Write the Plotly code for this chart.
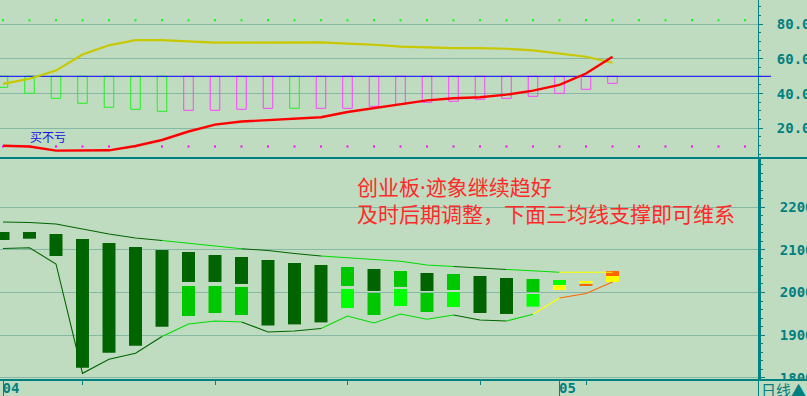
import plotly.graph_objects as go

# ---------------- data ----------------
idx = list(range(24))                    # trading-day index
dot_idx = list(range(30))                # reference-dot positions (extend past last bar)

# top panel: oscillator bars hang from the 50 level
mid_level = 50
osc_low = [43.65, 40.19, 37.31, 34.42, 32.12, 30.96, 29.81, 30.38, 30.38, 30.96,
           31.54, 31.54, 31.54, 31.54, 32.69, 33.85, 35.0, 35.58, 36.73, 37.31,
           38.46, 40.19, 42.5, 45.96]
osc_kind = ["g"] * 7 + ["m"] * 4 + ["g"] + ["m"] * 12
olive_line = [45.6, 48.6, 53.3, 62.6, 67.9, 70.9, 70.9, 70.1, 69.4, 69.4, 69.4, 69.8,
              69.6, 68.8, 68.2, 67.1, 66.5, 66.3, 66.2, 65.9, 65.0, 63.0, 61.3, 57.8]
red_line = [9.96, 9.5, 7.1, 7.1, 7.3, 9.8, 13.25, 18.15, 22.1, 23.9, 24.8, 25.65,
            26.35, 29.4, 31.7, 34.0, 36.1, 37.3, 37.9, 39.4, 41.7, 45.0, 51.6, 61.3]
upper_ref = 82.3
lower_ref = 9.5
top_ticks = [20, 40, 60, 80]
top_labels = ["20.00", "40.00", "60.00", "80.00"]

# bottom panel: two-part blocks (upper part / lower part)
upA_hi = [2142.0, 2142.0, 2137.3, 2125.6, 2116.2, 2106.8, 2099.8, 2095.1, 2088.0, 2083.3,
          2076.3, 2069.2, 2064.6, 2059.9, 2055.2, 2050.5, 2045.8, 2043.4, 2038.7, 2034.0,
          2031.7, 2029.3, 2027.0, 2050.5]
upA_lo = [2123.2, 2126.3, 2085.7, 1823.5, 1858.7, 1875.1, 1919.7, 2024.6, 2024.6, 2020.0,
          1922.7, 1925.1, 1929.8, 2015.3, 2003.5, 2013.0, 2003.5, 2005.9, 1951.9, 1949.6,
          2001.2, 2017.6, 2021.6, 2038.7]
upB_hi = [None] * 7 + [2015.3, 2015.3, 2013.0, None, None, None, 2008.3, 1998.8, 2008.3,
                       1998.8, 2001.2, None, None, 1996.5, 2017.6, 2020.0, 2038.7]
upB_lo = [None] * 7 + [1944.8, 1951.9, 1947.2, None, None, None, 1963.7, 1947.2, 1968.3,
                       1954.2, 1966.0, None, None, 1966.7, 2005.9, 2015.3, 2024.6]
kindA = ["D"] * 13 + ["M", "D", "M", "D", "M", "D", "D", "M", "B", "Y", "O"]
kindB = ["D"] * 7 + ["M", "M", "M", "D", "D", "D", "B", "M", "B", "M", "B", "D", "D",
                     "B", "Y", "O", "Y"]
env_upper = [2165.5, 2164.3, 2160.8, 2149.1, 2137.3, 2127.9, 2122.1, 2115.0, 2109.2, 2102.8,
             2098.6, 2091.5, 2085.7, 2081.7, 2077.0, 2073.2, 2064.6, 2061.0, 2057.5, 2054.0,
             2050.5, 2047.4, 2047.4, 2047.4]
env_lower = [2103.3, 2105.2, 2066.9, 1810.3, 1843.2, 1857.3, 1896.7, 1926.1, 1933.1, 1930.8,
             1907.3, 1909.6, 1915.5, 1944.8, 1928.4, 1949.5, 1937.1, 1947.2, 1935.4, 1933.1,
             1948.8, 1987.1, 1997.7, 2024.6]
seg_kind_upper = ["D"] * 6 + ["L"] * 3 + ["D"] * 3 + ["L"] * 5 + ["D"] * 2 + ["L"] * 2 + ["Y"] * 2
seg_kind_lower = ["D"] * 6 + ["L"] * 3 + ["D"] * 3 + ["L"] * 5 + ["D"] * 2 + ["L"] + ["Y"] + ["O"] * 2
bot_ticks = [1800, 1900, 2000, 2100, 2200]
bot_labels = ["1800", "1900", "2000", "2100", "2200"]

month_idx = [0, 21]
month_labels = ["04", "05"]
week_idx = [3, 8, 13, 18, 22]

note_lines = ["创业板·迹象继续趋好", "及时后期调整，下面三均线支撑即可维系"]
tag_text = "买不亏"
period_text = "日线▲"

# ---------------- style ----------------
W, H = 807, 396
PLOT_R = 758
TOP_BOTTOM = 158
BOT_BOTTOM = 380
BG = "#C0DCC0"
GRID = "#86B8A6"
TEAL = "#008080"
PAL = {"D": "#006400", "M": "#00C800", "B": "#00FF00", "Y": "#FFFF00", "O": "#FF6600",
       "L": "#00DD00", "g": "#20F020", "m": "#FF40FF"}
STEP = 26.5
X0 = 3.0
xr = [-X0 / STEP, (PLOT_R - X0) / STEP]
tickfont = dict(family="DejaVu Sans Mono", size=14, color=TEAL, weight="bold")

fig = go.Figure()

# ---- top panel ----
fig.add_trace(go.Bar(x=idx, base=osc_low, y=[mid_level - v for v in osc_low], width=0.36,
                     marker=dict(color="rgba(0,0,0,0)",
                                 line=dict(color=[PAL[k] for k in osc_kind], width=1)),
                     xaxis="x2", yaxis="y2", hoverinfo="skip", showlegend=False))
fig.add_trace(go.Scatter(x=[xr[0], xr[1] + 1], y=[mid_level, mid_level], mode="lines",
                         line=dict(color="#0000FF", width=1), xaxis="x2", yaxis="y2",
                         hoverinfo="skip", showlegend=False))
fig.add_trace(go.Scatter(x=dot_idx, y=[upper_ref] * len(dot_idx), mode="markers",
                         marker=dict(color="#00FF00", size=2, symbol="square"),
                         cliponaxis=False, xaxis="x2", yaxis="y2", hoverinfo="skip", showlegend=False))
fig.add_trace(go.Scatter(x=dot_idx, y=[lower_ref] * len(dot_idx), mode="markers",
                         marker=dict(color="#FF00FF", size=2, symbol="square"),
                         cliponaxis=False, xaxis="x2", yaxis="y2", hoverinfo="skip", showlegend=False))
fig.add_trace(go.Scatter(x=idx, y=olive_line, mode="lines", line=dict(color="#C8C800", width=2.2),
                         xaxis="x2", yaxis="y2", hoverinfo="skip", showlegend=False))
fig.add_trace(go.Scatter(x=idx, y=red_line, mode="lines", line=dict(color="#FF0000", width=2.4),
                         xaxis="x2", yaxis="y2", hoverinfo="skip", showlegend=False))

# ---- bottom panel ----
fig.add_trace(go.Bar(x=idx, base=upA_lo, y=[h - l for h, l in zip(upA_hi, upA_lo)], width=0.49,
                     marker=dict(color=[PAL[k] for k in kindA], line=dict(width=0)),
                     xaxis="x", yaxis="y", hoverinfo="skip", showlegend=False))
fig.add_trace(go.Bar(x=idx, base=upB_lo,
                     y=[(h - l) if h is not None else None for h, l in zip(upB_hi, upB_lo)],
                     width=0.49, marker=dict(color=[PAL[k] for k in kindB], line=dict(width=0)),
                     xaxis="x", yaxis="y", hoverinfo="skip", showlegend=False))


def add_segments(values, kinds):
    k = 0
    n = len(values)
    while k < n - 1:
        j = k
        while j + 1 < n - 1 and kinds[j + 1] == kinds[k]:
            j += 1
        fig.add_trace(go.Scatter(x=idx[k:j + 2], y=values[k:j + 2], mode="lines",
                                 line=dict(color=PAL[kinds[k]], width=1.1),
                                 xaxis="x", yaxis="y", hoverinfo="skip", showlegend=False))
        k = j + 1


add_segments(env_upper, seg_kind_upper)
add_segments(env_lower, seg_kind_lower)

# ---------------- layout ----------------
ytop = 1 - TOP_BOTTOM / H
ybot = 1 - BOT_BOTTOM / H
xdom = PLOT_R / W

fig.update_layout(
    width=W, height=H, margin=dict(l=0, r=0, t=0, b=0, autoexpand=False),
    paper_bgcolor=BG, plot_bgcolor=BG, barmode="overlay", showlegend=False,
    xaxis=dict(domain=[0, xdom], range=xr, anchor="y", automargin=False, showgrid=False,
               zeroline=False, showline=False, tickmode="array", tickvals=month_idx,
               ticktext=month_labels, ticks="outside", ticklen=16, tickwidth=1, tickcolor=TEAL,
               ticklabelshift=8, ticklabelstandoff=-21, tickfont=tickfont,
               minor=dict(tickmode="array", tickvals=week_idx, ticks="outside", ticklen=4,
                          tickcolor=TEAL, tickwidth=1, showgrid=False)),
    xaxis2=dict(domain=[0, xdom], range=xr, anchor="y2", matches="x", automargin=False,
                showgrid=False, zeroline=False, showline=False, showticklabels=False, ticks=""),
    yaxis=dict(domain=[ybot, ytop], range=[1794.6, 2315.7], side="right", anchor="x",
               automargin=False, tickmode="array", tickvals=bot_ticks, ticktext=bot_labels,
               showgrid=True, gridcolor=GRID, gridwidth=1, zeroline=False,
               showline=True, linecolor=TEAL, linewidth=3,
               ticks="outside", ticklen=4, tickcolor=TEAL, tickwidth=1,
               ticklabelstandoff=12, tickfont=tickfont,
               minor=dict(dtick=20, tick0=0, ticks="outside", ticklen=2, tickcolor=TEAL,
                          tickwidth=1, showgrid=False)),
    yaxis2=dict(domain=[ytop, 1], range=[2.87, 94.02], side="right", anchor="x2",
                automargin=False, tickmode="array", tickvals=top_ticks, ticktext=top_labels,
                showgrid=True, gridcolor=GRID, gridwidth=1, zeroline=False,
                showline=True, linecolor=TEAL, linewidth=1,
                ticks="outside", ticklen=4, tickcolor=TEAL, tickwidth=1,
                ticklabelstandoff=11, tickfont=tickfont,
                minor=dict(dtick=5, tick0=0, ticks="outside", ticklen=2, tickcolor=TEAL,
                           tickwidth=1, showgrid=False)),
    shapes=[
        dict(type="line", xref="paper", yref="y2", x0=xdom, x1=771 / W, y0=mid_level, y1=mid_level,
             line=dict(color="#0000FF", width=1), layer="above"),
        dict(type="rect", xref="paper", yref="paper", x0=(PLOT_R + 1.5) / W, x1=1, y0=0, y1=ybot,
             fillcolor=BG, line=dict(width=0), layer="above"),
        dict(type="line", xref="paper", yref="paper", x0=0, x1=1, y0=ytop, y1=ytop,
             line=dict(color=TEAL, width=2), layer="above"),
        dict(type="line", xref="paper", yref="paper", x0=0, x1=1, y0=ybot, y1=ybot,
             line=dict(color=TEAL, width=2), layer="above"),
        dict(type="line", xref="paper", yref="paper", x0=(PLOT_R + 0.5) / W, x1=(PLOT_R + 0.5) / W,
             y0=0, y1=ybot, line=dict(color=TEAL, width=1), layer="above"),
    ],
    annotations=[
        dict(text="<br>".join(note_lines), xref="paper", yref="paper", x=355 / W, y=1 - 200 / H,
             xanchor="left", yanchor="middle", align="left", showarrow=False,
             font=dict(family="Noto Sans, Noto Sans CJK SC", size=21, color="#FF2A2A")),
        dict(text=tag_text, xref="paper", yref="paper", x=28 / W, y=1 - 136 / H,
             xanchor="left", yanchor="middle", showarrow=False,
             font=dict(family="Noto Sans CJK SC", size=12, color="#1010E0")),
        dict(text=period_text, xref="paper", yref="paper", x=759 / W, y=1 - 389 / H,
             xanchor="left", yanchor="middle", showarrow=False,
             font=dict(family="Noto Sans CJK SC", size=15, color=TEAL)),
    ],
)

fig.write_html("out.html")
